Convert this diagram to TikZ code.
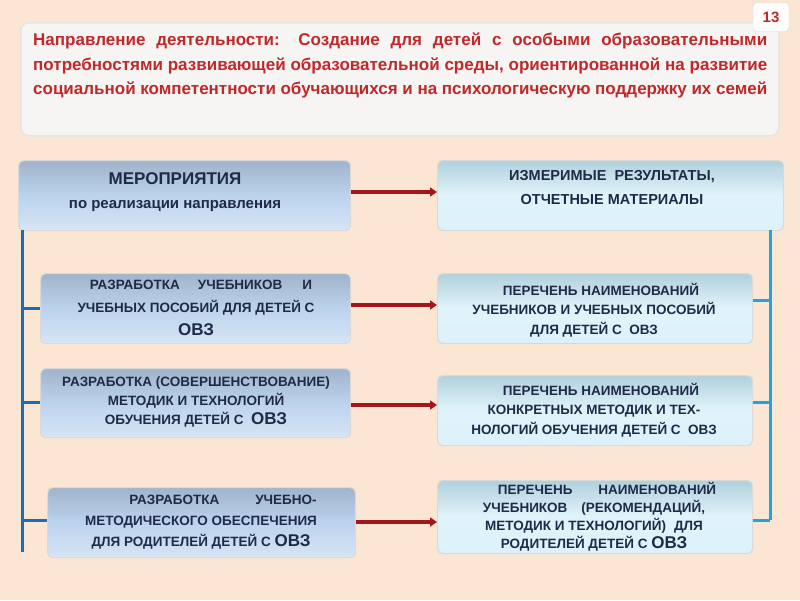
\documentclass[tikz,border=0pt]{standalone}
\usepackage{fontspec}
\setmainfont{Liberation Sans}
\usetikzlibrary{arrows.meta}
\definecolor{bg}{HTML}{FBE6D4}
\definecolor{navy}{HTML}{1F2A48}
\definecolor{lbox}{HTML}{BCD3EE}
\definecolor{rbox}{HTML}{C4E8F6}
\definecolor{tred}{HTML}{C0282A}
\definecolor{arr}{HTML}{A3161E}
\definecolor{lline}{HTML}{1C6CB0}
\definecolor{rline}{HTML}{1CA6E0}
\tikzset{
 lb/.style={draw=white!70!gray, line width=1.2pt, rounded corners=5pt, top color=lbox!85!black, bottom color=lbox!60!white, middle color=lbox, inner sep=0pt, anchor=north west},
 rb/.style={lb, top color=rbox!90!black, bottom color=rbox!60!white, middle color=rbox!50!white},
 tx/.style={text=navy, font=\bfseries\fontsize{14}{21}\selectfont, align=center},
 ar/.style={arr, line width=3.5pt, -{Triangle[length=7pt,width=9pt]}},
 ll/.style={lline, line width=3pt},
 rl/.style={rline, line width=3pt},
}
\begin{document}
\begin{tikzpicture}[x=1pt,y=-1pt]
\useasboundingbox[fill=bg] (0,0) rectangle (800,600);
\node[draw=white!80!gray, line width=1.5pt, fill=bg!60!gray!15!white, rounded corners=8pt, minimum width=758pt, minimum height=113pt, anchor=north west, inner sep=0pt] (title) at (20,22) {};
\node[anchor=north west, text=tred, font=\bfseries\fontsize{17}{24.5}\selectfont, text width=734pt, align=justify, inner sep=0pt] (tt) at (33,33) {Направление деятельности: Создание для детей с особыми образовательными потребностями развивающей образовательной среды, ориентированной на развитие социальной компетентности обучающихся и на психологическую поддержку их семей};
\node[draw=white!70!gray, fill=white!92!bg, rounded corners=4pt, minimum width=36pt, minimum height=29pt, font=\bfseries\fontsize{15}{17}\selectfont, text=tred, inner sep=0pt] (num) at (771,17) {13};

\node[lb, minimum width=332pt, minimum height=70pt] (l1) at (18,160) {};
\node[tx, font=\bfseries\fontsize{15}{24}\selectfont] (l1t) at (175,192) {\fontsize{17}{20}\selectfont МЕРОПРИЯТИЯ\\по реализации направления};
\node[rb, minimum width=346pt, minimum height=70pt] (r1) at (437,160) {};
\node[tx, font=\bfseries\fontsize{14.5}{24}\selectfont] (r1t) at (612,188) {ИЗМЕРИМЫЕ \ РЕЗУЛЬТАТЫ,\\ОТЧЕТНЫЕ МАТЕРИАЛЫ};

\node[lb, minimum width=310pt, minimum height=70pt] (l2) at (40,273) {};
\node[tx, font=\bfseries\fontsize{13.5}{23}\selectfont] (l2t) at (196,308) {\hspace*{10pt}РАЗРАБОТКА\hspace{18pt}УЧЕБНИКОВ\hspace{20pt}И\\УЧЕБНЫХ ПОСОБИЙ ДЛЯ ДЕТЕЙ С\\{\fontsize{17}{14}\selectfont ОВЗ}};
\node[rb, minimum width=315pt, minimum height=70pt] (r2) at (437,273) {};
\node[tx, font=\bfseries\fontsize{13.5}{19.5}\selectfont] (r2t) at (594,310) {\hspace*{14pt}ПЕРЕЧЕНЬ НАИМЕНОВАНИЙ\\УЧЕБНИКОВ И УЧЕБНЫХ ПОСОБИЙ\\ДЛЯ ДЕТЕЙ С \ ОВЗ};

\node[lb, minimum width=310pt, minimum height=69pt] (l3) at (40,368) {};
\node[tx, font=\bfseries\fontsize{13.5}{19}\selectfont] (l3t) at (196,402) {РАЗРАБОТКА (СОВЕРШЕНСТВОВАНИЕ)\\МЕТОДИК И ТЕХНОЛОГИЙ\\ОБУЧЕНИЯ ДЕТЕЙ С \ {\fontsize{17}{14}\selectfont ОВЗ}};
\node[rb, minimum width=315pt, minimum height=70pt] (r3) at (437,375) {};
\node[tx, font=\bfseries\fontsize{13.5}{19.5}\selectfont] (r3t) at (594,410) {\hspace*{14pt}ПЕРЕЧЕНЬ НАИМЕНОВАНИЙ\\КОНКРЕТНЫХ МЕТОДИК И ТЕХ-\\НОЛОГИЙ ОБУЧЕНИЯ ДЕТЕЙ С \ ОВЗ};

\node[lb, minimum width=308pt, minimum height=70pt] (l4) at (47,487) {};
\node[tx, font=\bfseries\fontsize{13.5}{21}\selectfont] (l4t) at (201,522) {\hspace*{44pt}РАЗРАБОТКА\hspace{36pt}УЧЕБНО-\\МЕТОДИЧЕСКОГО ОБЕСПЕЧЕНИЯ\\ДЛЯ РОДИТЕЛЕЙ ДЕТЕЙ С {\fontsize{17}{14}\selectfont ОВЗ}};
\node[rb, minimum width=315pt, minimum height=73pt] (r4) at (437,480) {};
\node[tx, font=\bfseries\fontsize{13.5}{18}\selectfont] (r4t) at (594,517) {\hspace*{26pt}ПЕРЕЧЕНЬ\hspace{26pt}НАИМЕНОВАНИЙ\\УЧЕБНИКОВ\hspace{14pt}(РЕКОМЕНДАЦИЙ,\\МЕТОДИК И ТЕХНОЛОГИЙ)\hspace{8pt}ДЛЯ\\РОДИТЕЛЕЙ ДЕТЕЙ С {\fontsize{17}{14}\selectfont ОВЗ}};

\coordinate (lt) at (22,230);
\coordinate (lbot) at (22,552);
\draw[ll] (lt) -- (lbot);
\draw[ll] (22,308) -- (l2.west|-0,308);
\draw[ll] (22,402) -- (l3.west|-0,402);
\draw[ll] (22,520) -- (l4.west|-0,520);
\coordinate (rt) at (770,230);
\coordinate (rbot) at (770,520);
\draw[rl] (rt) -- (rbot);
\draw[rl] (770,300) -- (r2.east|-0,300);
\draw[rl] (770,402) -- (r3.east|-0,402);
\draw[rl] (rbot) -- (r4.east|-0,520);

\draw[ar] (l1.east|-0,192) -- (r1.west|-0,192);
\draw[ar] (l2.east|-0,305) -- (r2.west|-0,305);
\draw[ar] (l3.east|-0,405) -- (r3.west|-0,405);
\draw[ar] (l4.east|-0,522) -- (r4.west|-0,522);
\end{tikzpicture}
\end{document}
